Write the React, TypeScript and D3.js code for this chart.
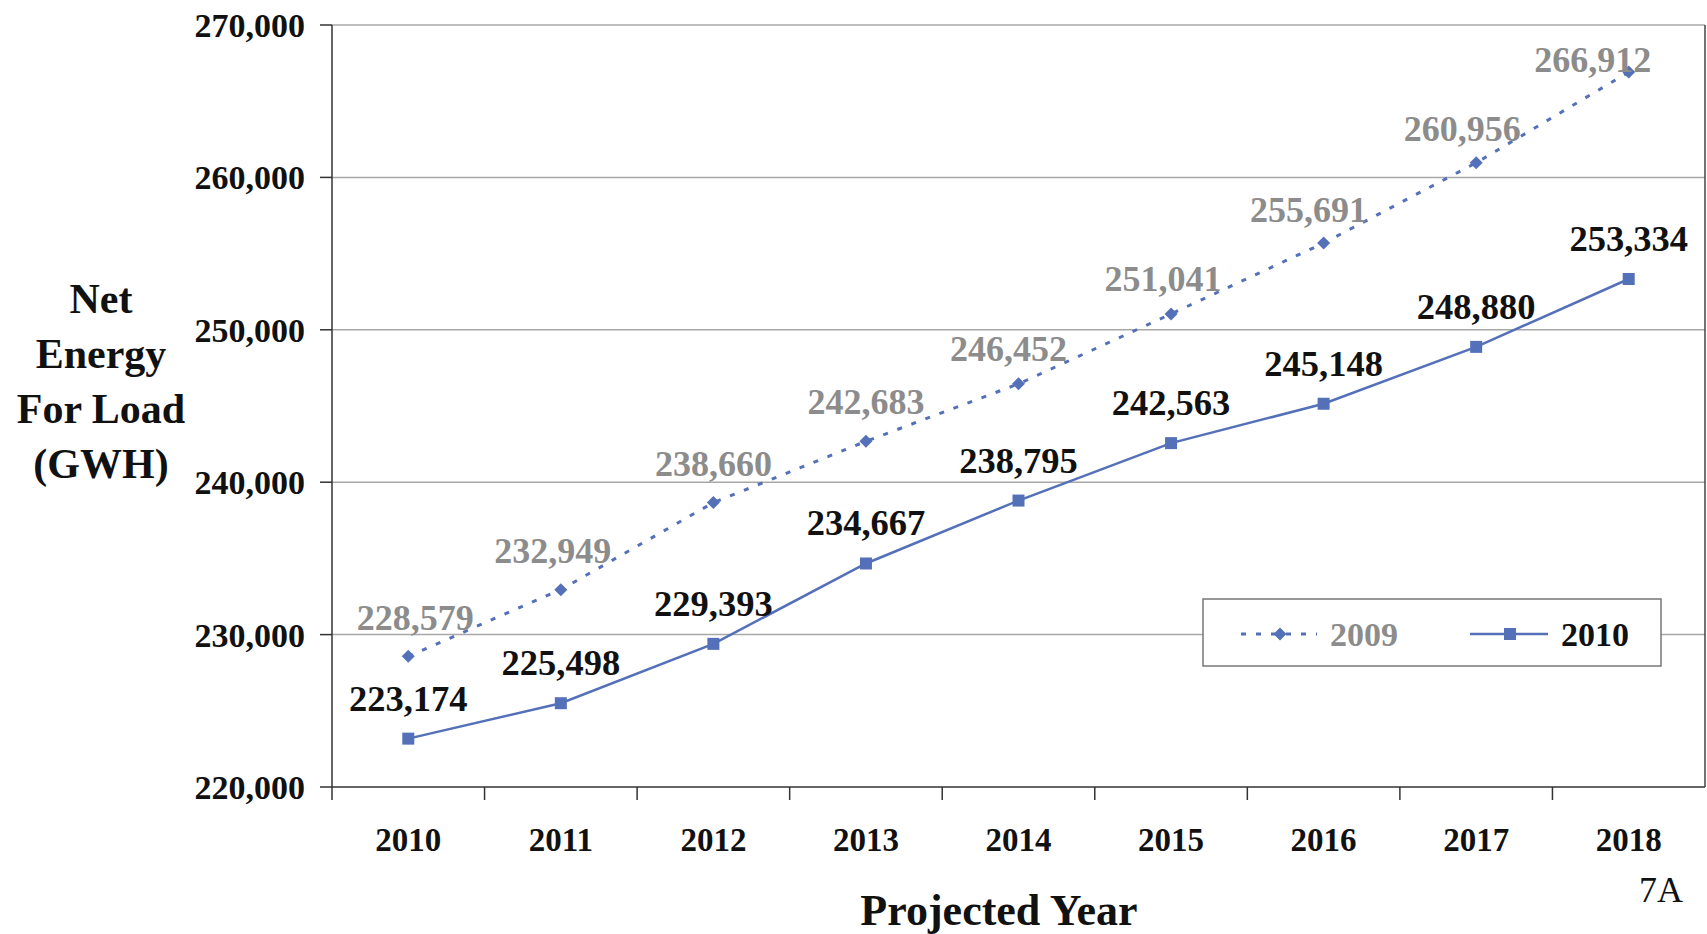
import React from "react";
import * as d3 from "d3";

const years = ["2010", "2011", "2012", "2013", "2014", "2015", "2016", "2017", "2018"];
const series2009 = [228579, 232949, 238660, 242683, 246452, 251041, 255691, 260956, 266912];
const series2010 = [223174, 225498, 229393, 234667, 238795, 242563, 245148, 248880, 253334];
const yTicks = [220000, 230000, 240000, 250000, 260000, 270000];
const yTitleLines = ["Net", "Energy", "For Load", "(GWH)"];
// label nudges (layout only)
const dx2009 = [7, -8, 0, 0, -10, -8, -15, -14, -36];
const dy2009 = [-26, -27, -27, -27, -23, -23, -21, -22, 0];

const W = 1707;
const H = 934;
const L = 332, R = 1705, T = 25, B = 787;
const FONT = "'Liberation Serif', 'Times New Roman', serif";
const BLUE = "#5470b8";
const GRAY = "#8c8c8c";

export default function App() {
  const x = d3.scaleBand<string>().domain(years).range([L, R]);
  const y = d3.scaleLinear().domain([220000, 270000]).range([B, T]);
  const cx = (i: number) => (x(years[i]) as number) + x.bandwidth() / 2;
  const fmt = d3.format(",");
  const line = d3.line<number>().x((_, i) => cx(i)).y((d) => y(d));

  const diamond = (px: number, py: number, s: number) =>
    `M${px},${py - s}L${px + s},${py}L${px},${py + s}L${px - s},${py}Z`;

  return (
    <svg width={W} height={H} style={{ position: "absolute", left: 0, top: 0, background: "#fff" }} fontFamily={FONT}>
      {/* gridlines */}
      {yTicks.slice(1).map((t) => (
        <line key={t} x1={L} x2={R} y1={y(t)} y2={y(t)} stroke="#a8a8a8" strokeWidth={1.5} />
      ))}
      {/* frame */}
      <line x1={R} x2={R} y1={T} y2={B} stroke="#444" strokeWidth={1.5} />
      <line x1={L} x2={L} y1={T} y2={B} stroke="#333" strokeWidth={1.5} />
      <line x1={L} x2={R} y1={B} y2={B} stroke="#333" strokeWidth={1.5} />
      {/* y ticks */}
      {yTicks.map((t) => (
        <g key={t}>
          <line x1={L - 12} x2={L} y1={y(t)} y2={y(t)} stroke="#333" strokeWidth={1.5} />
          <text x={305} y={y(t) + 12} textAnchor="end" fontSize={34} fontWeight="bold" fill="#111">
            {fmt(t)}
          </text>
        </g>
      ))}
      {/* x ticks */}
      {years.map((yr) => (
        <line key={"t" + yr} x1={x(yr) as number} x2={x(yr) as number} y1={B} y2={B + 13} stroke="#333" strokeWidth={1.5} />
      ))}
      {years.map((yr, i) => (
        <text key={"l" + yr} x={cx(i)} y={851} textAnchor="middle" fontSize={33} fontWeight="bold" fill="#111">
          {yr}
        </text>
      ))}
      {/* axis titles */}
      {yTitleLines.map((s, i) => (
        <text key={s} x={101} y={313 + i * 55} textAnchor="middle" fontSize={42} fontWeight="bold" fill="#111">
          {s}
        </text>
      ))}
      <text x={999} y={925} textAnchor="middle" fontSize={44} fontWeight="bold" fill="#111">
        Projected Year
      </text>
      <text x={1661} y={902} textAnchor="middle" fontSize={36} fill="#111">
        7A
      </text>
      {/* series 2009 */}
      <path d={line(series2009) || ""} fill="none" stroke={BLUE} strokeWidth={3} strokeDasharray="5,10" />
      {series2009.map((v, i) => (
        <path key={"d" + i} d={diamond(cx(i), y(v), 6.5)} fill={BLUE} />
      ))}
      {/* series 2010 */}
      <path d={line(series2010) || ""} fill="none" stroke={BLUE} strokeWidth={2.5} />
      {series2010.map((v, i) => (
        <rect key={"s" + i} x={cx(i) - 6} y={y(v) - 6} width={12} height={12} fill={BLUE} />
      ))}
      {/* labels */}
      {series2009.map((v, i) => (
        <text key={"g" + i} x={cx(i) + dx2009[i]} y={y(v) + dy2009[i]} textAnchor="middle" fontSize={36} fontWeight="bold" fill={GRAY}>
          {fmt(v)}
        </text>
      ))}
      {series2010.map((v, i) => (
        <text key={"b" + i} x={cx(i)} y={y(v) - 28} textAnchor="middle" fontSize={36.5} fontWeight="bold" fill="#111">
          {fmt(v)}
        </text>
      ))}
      {/* legend */}
      <rect x={1203} y={599} width={458} height={67} fill="#fff" stroke="#777" strokeWidth={1.5} />
      <line x1={1241} x2={1317} y1={634} y2={634} stroke={BLUE} strokeWidth={3} strokeDasharray="5,10" />
      <path d={diamond(1280, 634, 6.5)} fill={BLUE} />
      <text x={1330} y={646} fontSize={34} fontWeight="bold" fill={GRAY}>2009</text>
      <line x1={1470} x2={1548} y1={634} y2={634} stroke={BLUE} strokeWidth={2.5} />
      <rect x={1504} y={628} width={12} height={12} fill={BLUE} />
      <text x={1561} y={646} fontSize={34} fontWeight="bold" fill="#111">2010</text>
    </svg>
  );
}
